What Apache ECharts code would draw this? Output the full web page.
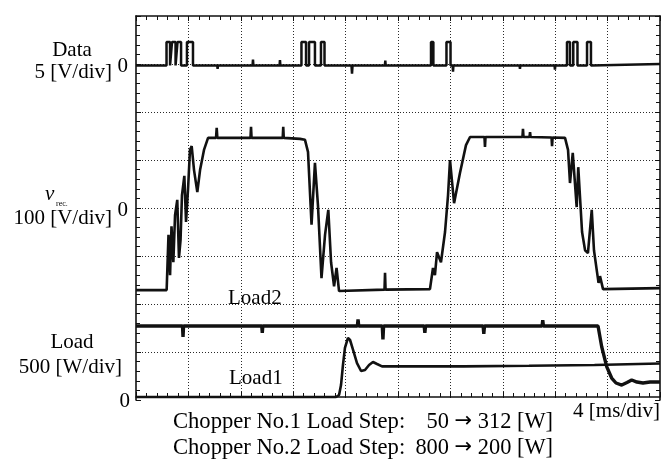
<!DOCTYPE html>
<html><head><meta charset="utf-8">
<script src="https://cdn.jsdelivr.net/npm/echarts@6/dist/echarts.min.js"></script>
<style>html,body{margin:0;padding:0;background:#fff}#c{width:663px;height:459px}</style>
</head><body><div id="c"></div>
<script>
// Time axis: 10 div x 4 ms/div
const timeTicks = [0, 4, 8, 12, 16, 20, 24, 28, 32, 36, 40];

// Data trace [ms, V]  (5 V/div, zero at 7th division)
const dataTrace = [
  [0,-0.15],[2.33,-0.15],[2.33,2.3],[2.60,2.3],[2.60,-0.15],[2.75,-0.15],[2.75,2.3],[3.02,2.3],[3.02,-0.15],
  [3.17,-0.15],[3.17,2.3],[3.44,2.3],[3.44,-0.15],[3.89,-0.15],[3.89,2.3],[4.35,2.3],[4.35,-0.15],
  [6.2,-0.15],[6.23,-0.5],[6.26,-0.15],[8.90,-0.15],[8.93,0.45],[8.96,-0.15],[10.96,-0.15],[10.99,0.4],[11.02,-0.15],
  [12.63,-0.15],[12.63,2.3],[12.98,2.3],[12.98,-0.15],[13.21,-0.15],[13.21,2.3],[13.66,2.3],[13.66,-0.15],
  [14.12,-0.15],[14.12,2.3],[14.39,2.3],[14.39,-0.15],[16.45,-0.15],[16.49,-1.0],[16.53,-0.15],
  [19.0,-0.15],[19.03,0.35],[19.06,-0.15],
  [22.52,-0.15],[22.52,2.3],[22.70,2.3],[22.70,-0.15],[23.70,-0.15],[23.70,2.3],[24.01,2.3],[24.01,-0.15],
  [24.17,-0.15],[24.20,-0.8],[24.23,-0.15],[29.28,-0.15],[29.31,-0.5],[29.34,-0.15],[31.95,-0.15],[31.98,-0.6],[32.01,-0.15],
  [32.90,-0.15],[32.90,2.3],[33.13,2.3],[33.13,-0.15],[33.38,-0.15],[33.38,2.3],[33.70,2.3],[33.70,-0.15],
  [34.43,-0.15],[34.43,2.3],[34.73,2.3],[34.73,-0.15],[40,0.0]
];

// v_rec trace [ms, V] (100 V/div, zero at 4th division)
const vrecTrace = [
  [0,-171],[2.34,-171],[2.48,-56],[2.60,-140],[2.71,-38],[2.85,-113],[2.98,-15],[3.15,17],[3.28,-104],[3.40,-67],
  [3.51,27],[3.69,67],[3.82,-29],[3.97,38],[4.12,121],[4.25,129],[4.43,79],[4.68,33],[4.89,79],[5.19,121],[5.50,146],
  [6.11,146],[6.16,167],[6.21,146],[8.74,146],[8.78,169],[8.82,146],[11.20,146],[11.24,169],[11.28,146],
  [12.52,144],[12.90,142],[13.13,117],[13.40,-35],[13.66,94],[13.89,6],[14.16,-146],[14.43,-56],[14.68,-4],
  [14.89,-113],[15.12,-163],[15.31,-125],[15.50,-173],[18.97,-170],[19.01,-135],[19.05,-170],
  [22.44,-169],[22.67,-125],[22.82,-140],[22.98,-92],[23.28,-113],[23.59,-50],[23.82,27],[23.97,100],[24.28,10],
  [24.73,73],[25.19,131],[25.50,148],[26.60,148],[26.64,127],[26.68,148],[29.50,148],[29.54,165],[29.58,148],
  [30.04,148],[30.08,158],[30.12,148],[31.72,147],[31.76,129],[31.80,147],[32.75,146],[32.98,121],[33.13,52],
  [33.34,115],[33.64,2],[33.76,85],[34.05,-50],[34.28,-88],[34.50,-94],[34.79,-4],[34.96,-88],[35.19,-133],
  [35.31,-156],[35.42,-142],[35.65,-169],[40,-167]
];

// Load2 trace [ms, W] (500 W/div, zero at bottom)
const load2Trace = [
  [0,771],[3.55,771],[3.59,656],[3.63,771],[9.6,771],[9.64,700],[9.68,771],[16.9,771],[16.95,840],[17.0,771],
  [18.8,771],[18.85,630],[18.9,771],[22.0,771],[22.05,700],[22.1,771],[26.5,771],[26.55,690],[26.6,771],
  [31.0,771],[31.05,830],[31.1,771],[35.27,771],[35.55,555],[35.93,347],[36.31,229],[36.64,177],[37.08,156],
  [37.48,182],[37.84,208],[38.24,187],[38.70,177],[39.24,187],[40,188]
];

// Load1 trace [ms, W]
const load1Trace = [
  [0,31],[15.27,31],[15.50,52],[15.65,156],[15.80,365],[15.95,542],[16.18,646],[16.34,625],[16.57,521],
  [16.87,385],[17.18,302],[17.48,313],[17.79,365],[18.09,396],[18.40,375],[18.78,350],[25,350],[30,356],[35,365],[40,380]
];

const FONT = '"Liberation Serif","Times New Roman",serif';
const ink = '#111';

const frameAxis = (extra) => Object.assign({
  type: 'value', min: 0, max: 40, interval: timeTicks[1] - timeTicks[0],
  axisLabel: { show: false },
  axisLine: { show: true, onZero: false, lineStyle: { color: ink, width: 1.6 } },
  axisTick: { show: true, inside: true, length: 5, lineStyle: { color: ink, width: 1 } },
  minorTick: { show: true, splitNumber: 5, length: 4, lineStyle: { color: ink, width: 1 } },
  splitLine: { show: false }
}, extra);

const dotted = { show: true, showMinLine: false, showMaxLine: false,
  lineStyle: { type: [1, 2], color: '#2a2a2a', width: 1 } };

const yFrame = (extra) => Object.assign({
  type: 'value', min: 0, max: 4000, interval: 500,
  axisLabel: { show: false },
  axisLine: { show: true, onZero: false, lineStyle: { color: ink, width: 1.6 } },
  axisTick: { show: true, inside: true, length: 5, lineStyle: { color: ink, width: 1 } },
  minorTick: { show: true, splitNumber: 5, length: 4, lineStyle: { color: ink, width: 1 } },
  splitLine: { show: false }
}, extra);

const lineSeries = (data, yIdx, w) => ({
  type: 'line', data, xAxisIndex: 0, yAxisIndex: yIdx, showSymbol: false, symbol: 'none',
  animation: false, silent: true,
  lineStyle: { color: ink, width: w }
});

const txt = (text, x, y, size, align, extra) => ({
  type: 'text', x, y, silent: true,
  style: Object.assign({ text, font: size + 'px ' + FONT, fill: '#000', textAlign: align || 'left', textVerticalAlign: 'middle' }, extra || {})
});

const arrowRich = { a: { font: '21px "DejaVu Sans",sans-serif', fill: '#000' } };

const chart = echarts.init(document.getElementById('c'), null, { renderer: 'canvas' });
chart.setOption({
  backgroundColor: '#fff',
  animation: false,
  grid: { left: 136, right: 3, top: 16, height: 384 },
  xAxis: [
    frameAxis({ position: 'bottom', offset: -3, splitLine: dotted }),
    frameAxis({ position: 'top' })
  ],
  yAxis: [
    yFrame({ position: 'left', splitLine: dotted }),
    yFrame({ position: 'right' }),
    { type: 'value', min: -35, max: 5, show: false },
    { type: 'value', min: -400, max: 400, show: false }
  ],
  series: [
    lineSeries(dataTrace, 2, 2.5),
    lineSeries(vrecTrace, 3, 2.6),
    lineSeries(load2Trace, 0, 3.4),
    lineSeries(load1Trace, 0, 2.6)
  ],
  graphic: [
    txt('Data', 72, 50, 21, 'center'),
    txt('5 [V/div]', 112, 72, 21, 'right'),
    txt('0', 128, 66, 21, 'right'),
    txt('v', 45, 194, 21, 'left', { font: 'italic 21px ' + FONT }),
    txt('rec.', 56, 204, 8, 'left'),
    txt('100 [V/div]', 112, 218, 21, 'right'),
    txt('0', 128, 210, 21, 'right'),
    txt('Load', 72, 342, 21, 'center'),
    txt('500 [W/div]', 122, 367, 21, 'right'),
    txt('0', 130, 401, 21, 'right'),
    txt('Load2', 228, 298, 21, 'left'),
    txt('Load1', 229, 378, 21, 'left'),
    txt('4 [ms/div]', 660, 411, 21, 'right'),
    txt('Chopper No.1 Load Step:', 173, 422, 22.6, 'left'),
    txt('50 {a|\u2192} 312 [W]', 553, 422, 22.4, 'right', { rich: arrowRich }),
    txt('Chopper No.2 Load Step:', 173, 448, 22.6, 'left'),
    txt('800 {a|\u2192} 200 [W]', 553, 448, 22.4, 'right', { rich: arrowRich })
  ]
});
</script></body></html>
